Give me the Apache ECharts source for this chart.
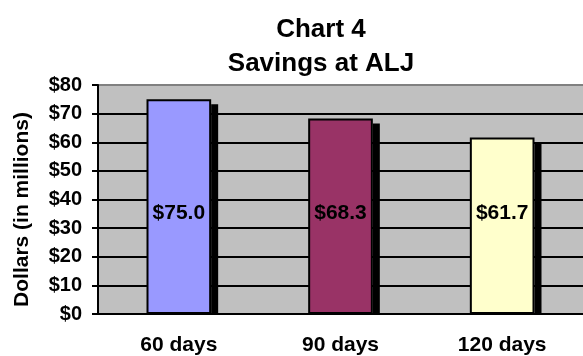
<!DOCTYPE html>
<html>
<head>
<meta charset="utf-8">
<script src="https://cdn.jsdelivr.net/npm/echarts@6/dist/echarts.min.js"></script>
<style>
  html, body { margin: 0; padding: 0; background: #ffffff; }
  #chart { width: 583px; height: 356px; }
</style>
</head>
<body>
<div id="chart"></div>
<script>
// 数据
var categories = ['60 days', '90 days', '120 days'];
var savings = [75.0, 68.3, 61.7];
var barColors = ['#9999ff', '#993366', '#ffffcc'];
var yTicks = [0, 10, 20, 30, 40, 50, 60, 70, 80];

var myChart = echarts.init(document.getElementById('chart'));
var fontFamily = 'Liberation Sans, Arial, sans-serif';

// 网格线颜色，最上面一条是灰色
var splitColors = yTicks.map(function(v, i) {
	return i === yTicks.length - 1 ? '#808080' : '#000000';
});

var option = {
	backgroundColor: '#ffffff',
	animation: false,
	title: {
		text: 'Chart 4\nSavings at ALJ',
		left: 316,
		top: 8,
		textAlign: 'center',
		textStyle: {
			fontFamily: fontFamily,
			fontWeight: 'bold',
			fontSize: 26,
			lineHeight: 34,
			color: '#000'
		}
	},
	grid: {
		left: 98,
		top: 85,
		width: 497,
		height: 229,
		show: true,
		backgroundColor: '#c0c0c0',
		borderWidth: 0
	},
	xAxis: {
		type: 'category',
		data: categories,
		axisLine: { lineStyle: { color: '#000', width: 2 } },
		axisTick: { length: 7, lineStyle: { color: '#000', width: 2 } },
		axisLabel: {
			margin: 21,
			color: '#000',
			fontFamily: fontFamily,
			fontWeight: 'bold',
			fontSize: 21
		},
		splitLine: { show: false }
	},
	yAxis: {
		type: 'value',
		min: 0,
		max: 80,
		interval: 10,
		name: 'Dollars (in millions)',
		nameLocation: 'middle',
		nameGap: 65,
		nameTextStyle: {
			fontFamily: fontFamily,
			fontWeight: 'bold',
			fontSize: 21,
			color: '#000',
			padding: [0, 20, 0, 0]
		},
		axisLine: { show: true, lineStyle: { color: '#000', width: 2 } },
		axisTick: { show: true, length: 6, lineStyle: { color: '#000', width: 2 } },
		axisLabel: {
			margin: 16,
			color: '#000',
			fontFamily: fontFamily,
			fontWeight: 'bold',
			fontSize: 20,
			formatter: function(v) { return '$' + v; }
		},
		splitLine: { show: true, lineStyle: { color: splitColors, width: 2 } }
	},
	series: [
		{
			// 柱子的阴影
			type: 'custom',
			z: 1,
			silent: true,
			data: savings.map(function(v, i) { return [i, v]; }),
			renderItem: function(params, api) {
				var top = api.coord([api.value(0), api.value(1)]);
				var bottom = api.coord([api.value(0), 0]);
				var w = api.size([1, 0])[0] * 0.4;
				return {
					type: 'rect',
					shape: {
						x: top[0] + w / 2,
						y: top[1] + 5,
						width: 7,
						height: bottom[1] - top[1] - 5
					},
					style: { fill: '#000' }
				};
			}
		},
		{
			type: 'bar',
			z: 2,
			barWidth: '40%',
			data: savings,
			itemStyle: {
				color: function(p) { return barColors[p.dataIndex]; },
				borderColor: '#000',
				borderWidth: 2
			},
			label: {
				show: true,
				position: 'insideBottom',
				distance: 90,
				color: '#000',
				fontFamily: fontFamily,
				fontWeight: 'bold',
				fontSize: 21,
				formatter: function(p) { return '$' + p.value.toFixed(1); }
			}
		}
	]
};
myChart.setOption(option);
window.addEventListener('resize', function() {
	myChart.resize();
});
</script>
</body>
</html>
